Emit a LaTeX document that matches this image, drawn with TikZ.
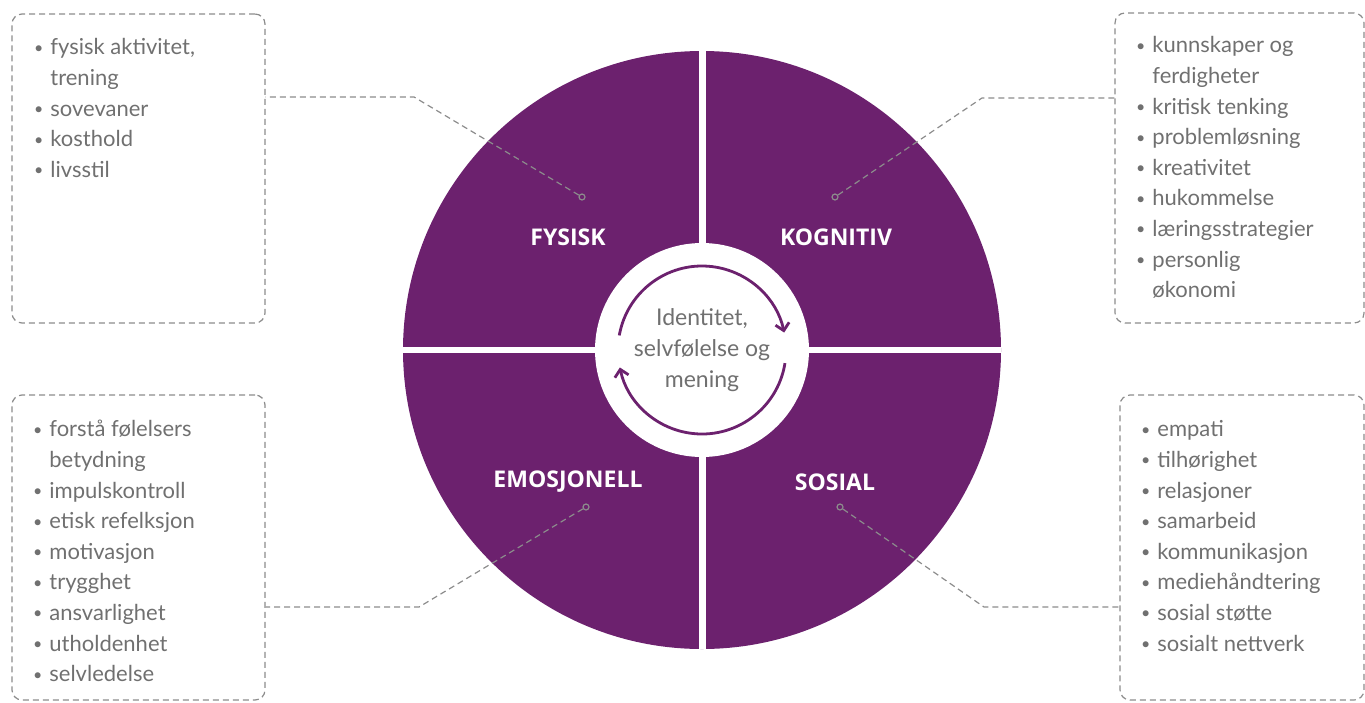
\documentclass[tikz,border=0pt]{standalone}
\usepackage{fontspec}
\setmainfont{Lato}
\newfontfamily\titlefont{Open Sans}
\usetikzlibrary{arrows.meta}
\definecolor{cclilla}{RGB}{108,33,110}
\definecolor{cctekst}{RGB}{112,112,112}
\definecolor{ccstrek}{RGB}{140,140,140}
\newcommand\pkt{\llap{\raisebox{0.8pt}{\fontsize{8}{8}\selectfont\textbullet}\hspace{3.5pt}}}

\begin{document}
\begin{tikzpicture}[x=0.5pt, y=-0.5pt]

  % Stiler
  \tikzstyle{boks} = [draw=ccstrek, line width=0.6pt, dash pattern=on 3pt off 2pt, rounded corners=5pt, inner sep=0pt]
  \tikzstyle{liste} = [anchor=north west, align=left, inner sep=0pt, text=cctekst, font=\fontsize{11}{15.3}\selectfont]
  \tikzstyle{tittel} = [text=white, font=\titlefont\fontsize{11.5}{14}\selectfont\bfseries]
  \tikzstyle{prikk} = [circle, draw=ccstrek, line width=0.6pt, inner sep=0pt, minimum size=3pt]
  \tikzstyle{strek} = [draw=ccstrek, line width=0.6pt, dash pattern=on 3pt off 2pt]
  \tikzstyle{pil} = [-{Straight Barb[length=3.5pt, width=7pt]}, cclilla, line width=1.4pt]

  % Ramme
  \useasboundingbox (0,0) rectangle (1365,702);

  % Sirkel
  \draw (702,350) node[circle, fill=cclilla, inner sep=0pt, minimum size=299pt] (sirkel) {};
  \draw[white, line width=3.5pt] (sirkel.north) -- (sirkel.south);
  \draw[white, line width=3pt] (sirkel.west) -- (sirkel.east);
  \draw (702,350) node[circle, fill=white, inner sep=0pt, minimum size=107pt, align=center, text=cctekst, font=\fontsize{11.5}{15.5}\selectfont] (midt) {Identitet,\\selvfølelse og\\mening};

  % Piler rundt midten
  \draw[pil] ([shift={(170:42pt)}]midt.center) arc[start angle=170, end angle=12, radius=42pt];
  \draw[pil] ([shift={(-9:42pt)}]midt.center) arc[start angle=-9, end angle=-168, radius=42pt];

  % Titler
  \draw (568,237) node[tittel] (tFysisk) {FYSISK};
  \draw (836,237) node[tittel] (tKognitiv) {KOGNITIV};
  \draw (568,482) node[tittel] (tEmosjonell) {EMOSJONELL};
  \draw (835,482) node[tittel] (tSosial) {SOSIAL};

  % Bokser
  \draw (138.5,168.5) node[boks, minimum width=126.5pt, minimum height=154.5pt] (bFysisk) {};
  \draw (1239.5,168) node[boks, minimum width=124.5pt, minimum height=155pt] (bKognitiv) {};
  \draw (138.5,547.5) node[boks, minimum width=126.5pt, minimum height=152.5pt] (bEmosjonell) {};
  \draw (1242,547.5) node[boks, minimum width=122pt, minimum height=152.5pt] (bSosial) {};

  % Lister
  \draw (50,33) node[liste] (lFysisk) {\strut\pkt fysisk aktivitet,\\trening\\\pkt sovevaner\\\pkt kosthold\\\pkt livsstil};
  \draw (1152,31) node[liste] (lKognitiv) {\strut\pkt kunnskaper og\\ferdigheter\\\pkt kritisk tenking\\\pkt problemløsning\\\pkt kreativitet\\\pkt hukommelse\\\pkt læringsstrategier\\\pkt personlig\\økonomi};
  \draw (49,415) node[liste] (lEmosjonell) {\strut\pkt forstå følelsers\\betydning\\\pkt impulskontroll\\\pkt etisk refelksjon\\\pkt motivasjon\\\pkt trygghet\\\pkt ansvarlighet\\\pkt utholdenhet\\\pkt selvledelse};
  \draw (1157,415) node[liste] (lSosial) {\strut\pkt empati\\\pkt tilhørighet\\\pkt relasjoner\\\pkt samarbeid\\\pkt kommunikasjon\\\pkt mediehåndtering\\\pkt sosial støtte\\\pkt sosialt nettverk};

  % Streker
  \draw (582,197) node[prikk] (pFysisk) {};
  \draw (835,197) node[prikk] (pKognitiv) {};
  \draw (586,507) node[prikk] (pEmosjonell) {};
  \draw (840,507) node[prikk] (pSosial) {};
  \coordinate (kFysisk) at (414,97);
  \coordinate (kKognitiv) at (982,98);
  \coordinate (kEmosjonell) at (419,607);
  \coordinate (kSosial) at (984,607);
  \draw[strek] (pFysisk) -- (kFysisk) -- (kFysisk -| bFysisk.east);
  \draw[strek] (pKognitiv) -- (kKognitiv) -- (kKognitiv -| bKognitiv.west);
  \draw[strek] (pEmosjonell) -- (kEmosjonell) -- (kEmosjonell -| bEmosjonell.east);
  \draw[strek] (pSosial) -- (kSosial) -- (kSosial -| bSosial.west);

\end{tikzpicture}
\end{document}
